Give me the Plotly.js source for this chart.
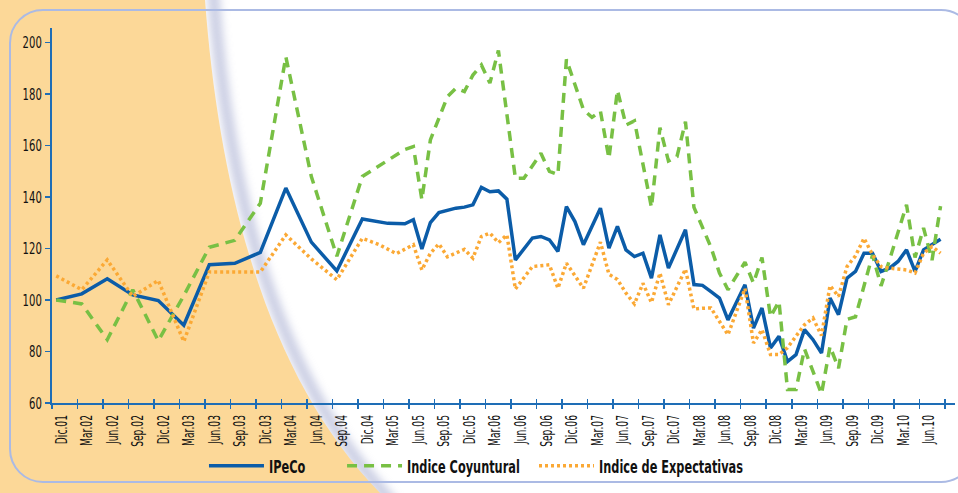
<!DOCTYPE html>
<html>
<head>
<meta charset="utf-8">
<script src="https://cdn.plot.ly/plotly-3.0.1.min.js"></script>
<style>
html,body{margin:0;padding:0;width:958px;height:493px;overflow:hidden;background:#ffffff}
#wrap{position:relative;width:958px;height:493px}
#bg{position:absolute;left:0;top:0}
#frame{position:absolute;left:9px;top:9px;width:966px;height:474px;border:2px solid #ABBAE4;border-radius:34px;box-sizing:border-box}
#chart{position:absolute;left:0;top:0;width:958px;height:493px}
</style>
</head>
<body>
<div id="wrap">
<svg id="bg" width="958" height="493">
<defs><filter id="sh" x="-50%" y="-50%" width="200%" height="200%"><feGaussianBlur stdDeviation="4"/></filter></defs>
<path d="M213,-10 C228,200 278,380 393,503" stroke="#a9afd2" stroke-width="12" fill="none" filter="url(#sh)" opacity="0.6"/>
<path d="M0,0 L205,0 C220,200 270,380 380,493 L0,493 Z" fill="#FCD898"/>
</svg>
<div id="frame"></div>
<div id="chart"></div>
</div>
<script>
// quarterly tick labels (category axis, one category per month, Dic.01 = month 0)
const tickLabels = ["Dic.01","Mar.02","Jun.02","Sep.02","Dic.02","Mar.03","Jun.03","Sep.03","Dic.03",
  "Mar.04","Jun.04","Sep.04","Dic.04","Mar.05","Jun.05","Sep.05","Dic.05","Mar.06","Jun.06","Sep.06",
  "Dic.06","Mar.07","Jun.07","Sep.07","Dic.07","Mar.08","Jun.08","Sep.08","Dic.08","Mar.09","Jun.09",
  "Sep.09","Dic.09","Mar.10","Jun.10"];

// IPeCo
const ipecoMonth = [0,3,6,9,12,15,18,21,24,27,30,33,36,39,41,42,43,44,45,47,48,49,50,51,52,53,54,56,57,58,59,60,
  61,62,64,65,66,67,68,69,70,71,72,74,75,76,77,78,79,80,81,82,83,84,85,86,87,88,89,90,91,92,93,94,95,96,97,98,99,100,101,102,103,104];
const ipecoValue = [100,102.4,108.3,102,99.8,90.2,113.7,114.3,118.5,143.5,122.5,111.3,131.5,129.8,129.6,131.2,119.8,130.1,134,135.7,136.1,137,
  143.8,142.1,142.4,139.2,115.6,124.1,124.7,123.4,118.9,136.3,130.5,121.5,135.7,120.2,128.6,119.5,116.9,118.2,108.5,125.3,
  112.4,127.3,106,105.7,103.3,100.8,92.3,98.8,105.9,89.1,96.9,81.4,85.9,76.1,78.8,88.5,84.6,79.4,100.8,94.3,
  108.5,111.1,118.2,118.2,111.1,112.4,115,119.5,111.1,119.5,121.5,123.6];

// Indice Coyuntural
const coyMonth = [0,3,6,9,12,15,18,21,24,27,30,33,36,41,42,43,44,46,47,48,49,50,51,52,54,55,57,58,59,60,
  62,63,64,65,66,67,68,70,71,72,73,74,75,76,77,78,79,81,82,83,84,85,86,87,88,90,91,92,93,94,96,97,98,100,101,102,103,104];
const coyValue = [100,98.5,84.6,104,84.2,101.7,120.5,123.2,137.6,194.5,148,117,148,158.5,159.6,139,162.2,179,182.3,181,
  187.4,191.3,184.3,197,147.3,147.3,157,150,148.8,193.5,174,171,173.4,155,181.5,168,169.6,136,167,154,
  155.7,169.3,136,128.6,120.5,110.5,104,114.7,106.6,116.5,93.5,99.5,65.2,65.2,81,63.5,82,73.5,92.5,93.5,
  117.5,105.5,115.6,137,116.5,128,115.5,136.5];

// Indice de Expectativas
const expMonth = [0,3,6,9,12,15,18,21,24,27,30,33,36,38,40,42,43,44,45,46,48,49,50,51,52,53,54,56,58,59,
  60,62,64,65,66,67,68,69,70,71,72,74,75,76,77,79,81,82,83,84,85,86,88,89,90,91,92,93,94,95,96,97,98,100,101,102,103,104];
const expValue = [109.4,104,115.6,101.4,107.6,83.9,110.9,110.9,110.9,125.3,116,107.9,124,121.5,118,121.5,111.7,118.2,121.8,116.8,
  119.7,116.3,124.7,126,122.3,125.3,104.3,113,113.7,104.6,114.3,104.6,122.5,110,108,102.7,98.5,106.5,99,110.5,
  98.2,112,96.5,96.8,96.9,86.5,104.5,83.3,88.5,78.8,78.8,81.5,90.4,93,86.2,105.6,101.4,113,117.2,124,
  117.6,113,112.4,111.7,110.5,118.2,120.8,118.2];

const BLUE = "#0B5CA8", GREEN = "#78C044", ORANGE = "#FBA935", AXIS = "#1E6DB6";
const FONT = "'Liberation Sans Narrow','DejaVu Sans Condensed','Arial Narrow',sans-serif";

const tickVals = tickLabels.map((_, k) => 3 * k - 0.5).concat([3 * tickLabels.length - 0.5]);
const tickText = tickLabels.concat([""]);

const traces = [
  {x: ipecoMonth, y: ipecoValue, name: "IPeCo", type: "scatter", mode: "lines", legend: "legend",
   line: {color: BLUE, width: 3.5}},
  {x: coyMonth, y: coyValue, name: "Indice Coyuntural", type: "scatter", mode: "lines", legend: "legend2",
   line: {color: GREEN, width: 3.5, dash: "10px,7px"}},
  {x: expMonth, y: expValue, name: "Indice de Expectativas", type: "scatter", mode: "lines", legend: "legend3",
   line: {color: ORANGE, width: 3.5, dash: "3px,3px"}},
  {x: [0], y: [60], xaxis: "x2", yaxis: "y", type: "scatter", mode: "lines", showlegend: false,
   hoverinfo: "skip", line: {width: 0}}
];

const legendBase = {orientation: "h", xanchor: "left", y: -0.168, yanchor: "middle", itemwidth: 55,
  bgcolor: "rgba(0,0,0,0)", font: {family: FONT, size: 18, color: "#111", weight: 700}};

const layout = {
  width: 958, height: 493,
  margin: {l: 52, r: 3, t: 28, b: 90},
  paper_bgcolor: "rgba(0,0,0,0)", plot_bgcolor: "rgba(0,0,0,0)",
  showlegend: true,
  legend: Object.assign({}, legendBase, {x: 0.1683}),
  legend2: Object.assign({}, legendBase, {x: 0.3212}),
  legend3: Object.assign({}, legendBase, {x: 0.5338}),
  xaxis: {range: [-0.5, 105.7], tickmode: "array", tickvals: tickVals, ticktext: tickText,
    tickangle: -90, ticks: "outside", ticklen: 4, tickwidth: 1.5, tickcolor: AXIS,
    showline: true, linecolor: AXIS, linewidth: 2, showgrid: false, zeroline: false,
    ticklabelshift: 10, tickfont: {family: FONT, size: 15, color: "#111"}},
  xaxis2: {range: [-0.5, 105.7], overlaying: "x", anchor: "y", tickmode: "array", tickvals: tickVals,
    ticks: "inside", ticklen: 4, tickwidth: 1.5, tickcolor: AXIS, showticklabels: false,
    showline: false, showgrid: false, zeroline: false, side: "bottom"},
  yaxis: {range: [60, 205.7], tick0: 60, dtick: 20, ticks: "outside", ticklen: 5, tickwidth: 1.5,
    tickcolor: AXIS, showline: true, linecolor: AXIS, linewidth: 2, showgrid: false, zeroline: false,
    tickfont: {family: FONT, size: 16, color: "#111"}}
};

// squeeze a text element horizontally (in its own frame) around its anchor point
function squeeze(t, k) {
  if (t.dataset.sq) return;
  const x0 = parseFloat(t.getAttribute("x")) || 0;
  const y0 = parseFloat(t.getAttribute("y")) || 0;
  const prev = t.getAttribute("transform") || "";
  t.setAttribute("transform", prev + " translate(" + x0 + "," + y0 + ") scale(" + k + ",1) translate(" + (-x0) + "," + (-y0) + ")");
  t.dataset.sq = "1";
}
// the reference uses a very narrow typeface
function condenseTexts() {
  document.querySelectorAll("#chart text.legendtext, #chart text.legend2text, #chart text.legend3text")
    .forEach(function (t) { squeeze(t, 0.7); });
  document.querySelectorAll("#chart g.xtick text").forEach(function (t) { squeeze(t, 0.68); });
  document.querySelectorAll("#chart g.ytick text").forEach(function (t) { squeeze(t, 0.7); });
}

const gd = document.getElementById("chart");
Plotly.newPlot(gd, traces, layout, {displayModeBar: false, staticPlot: true}).then(function () {
  condenseTexts();
  gd.on("plotly_afterplot", condenseTexts);
});
</script>
</body>
</html>
